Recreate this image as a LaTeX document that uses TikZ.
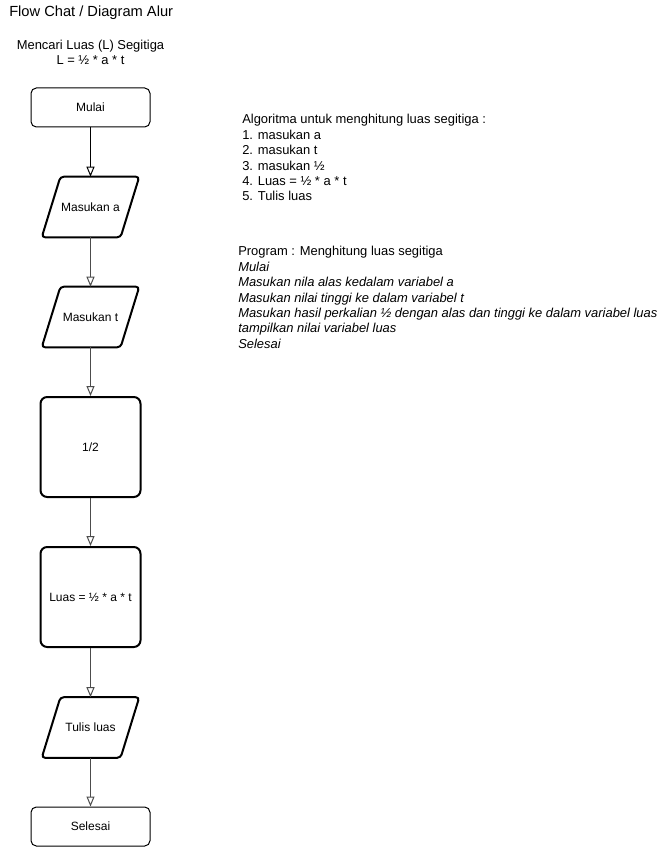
\documentclass[tikz,border=0pt]{standalone}
\usepackage{fontspec}
\setmainfont{Liberation Sans}
\usetikzlibrary{arrows.meta}

\begin{document}
\begin{tikzpicture}[x=0.75pt,y=-0.75pt,
  every node/.style={font=\fontsize{9}{11.6}\selectfont},
  listing/.style={font=\fontsize{9.7}{11.6}\selectfont},
  terminal/.style={draw, line width=0.75pt, rounded corners=4pt,
    minimum width=89.25pt, minimum height=29.25pt, inner sep=0pt},
  process/.style={draw, line width=1.5pt, rounded corners=5pt,
    minimum width=75pt, minimum height=75pt, inner sep=0pt},
  iobody/.style={minimum width=72.75pt, minimum height=45pt, inner sep=0pt},
  ioedge/.style={line width=1.5pt, rounded corners=2.5pt},
  flow/.style={draw=black!70, line width=1.3pt,
    -{Triangle[fill=white, length=7.5pt, width=6pt, line width=0.75pt]}},
  textblock/.style={anchor=north west, align=left, inner sep=0pt},
]
\useasboundingbox (0,0) rectangle (671,848);

% slanted input/output box drawn around a named node
\newcommand\iobox[1]{%
  \draw[ioedge] (#1.south west) -- ([xshift=-14pt]#1.south east)
    -- (#1.north east) -- ([xshift=14pt]#1.north west) -- cycle;}

% headings
\node[anchor=base west, inner sep=0pt, font=\fontsize{11}{13}\selectfont]
  (title) at (9,17) {Flow Chat / Diagram Alur};
\node[anchor=north, align=center, inner sep=0pt,
  font=\fontsize{9.7}{11.25}\selectfont]
  (subtitle) at (90.5,40) {Mencari Luas (L) Segitiga\\L = ½ * a * t};

% flowchart
\node[terminal] (mulai)   at (90.5,107.5) {Mulai};
\node[iobody]   (ina)     at (90.5,207)   {Masukan a};
\node[iobody]   (int)     at (90.5,317)   {Masukan t};
\node[process]  (half)    at (90.5,447)   {1/2};
\node[process]  (luas)    at (90.5,597)   {Luas = ½ * a * t};
\node[iobody]   (tulis)   at (90.5,727.5) {Tulis luas};
\node[terminal] (selesai) at (90.5,826.5) {Selesai};

\iobox{ina}
\iobox{int}
\iobox{tulis}

\draw[flow, draw=black, line width=0.75pt] (mulai) -- (ina);
\draw[flow] (ina) -- (int);
\draw[flow] (int) -- (half);
\draw[flow] (half) -- (luas);
\draw[flow] (luas) -- (tulis);
\draw[flow] (tulis) -- (selesai);

% algorithm and program listings
\node[textblock, listing] (algo) at (242,114) {Algoritma untuk menghitung luas segitiga :\\
1. masukan a\\
2. masukan t\\
3. masukan ½\\
4. Luas = ½ * a * t\\
5. Tulis luas};

\node[textblock, listing] (prog) at (238,246) {Program : Menghitung luas segitiga\\
\textit{Mulai}\\
\textit{Masukan nila alas kedalam variabel a}\\
\textit{Masukan nilai tinggi ke dalam variabel t}\\
\textit{Masukan hasil perkalian ½ dengan alas dan tinggi ke dalam variabel luas}\\
\textit{tampilkan nilai variabel luas}\\
\textit{Selesai}};
\end{tikzpicture}
\end{document}
